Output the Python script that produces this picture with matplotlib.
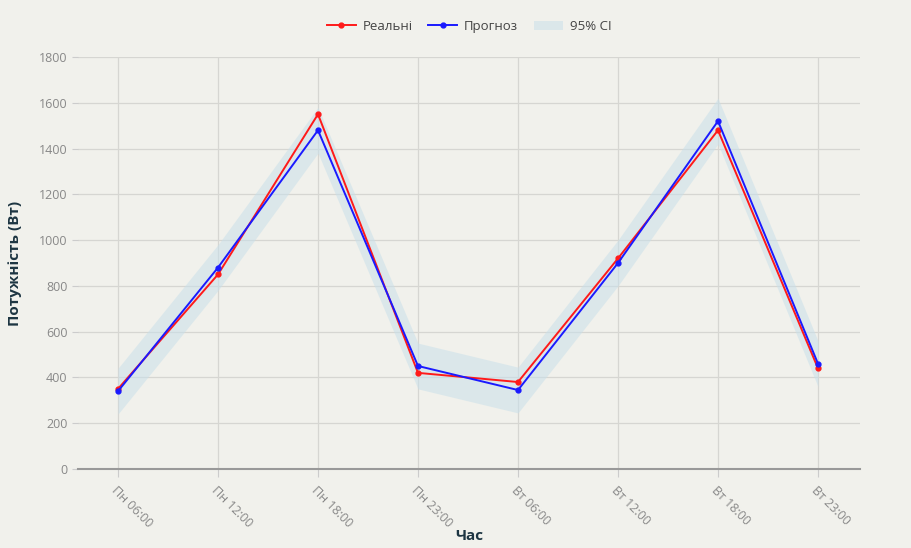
import numpy as np
import matplotlib
matplotlib.use("Agg")
import matplotlib.pyplot as plt

plt.rcParams['font.family'] = ['Open Sans', 'DejaVu Sans']

hours = ['Пн 06:00', 'Пн 12:00', 'Пн 18:00', 'Пн 23:00',
         'Вт 06:00', 'Вт 12:00', 'Вт 18:00', 'Вт 23:00']
actual = [350, 850, 1550, 420, 380, 920, 1480, 440]
forecast = [340, 880, 1480, 450, 345, 900, 1520, 460]
ci_lower = [240, 780, 1380, 350, 245, 800, 1420, 360]
ci_upper = [440, 980, 1580, 550, 445, 1000, 1620, 560]

bg = '#f1f1ec'
fig = plt.figure(figsize=(9.11, 5.48), dpi=100, facecolor=bg)
ax = fig.add_axes([78 / 911, 1 - 469 / 548, (860 - 78) / 911, (469 - 57) / 548])
ax.set_facecolor(bg)

x = np.arange(len(hours))
ax.plot(x, actual, color='#ff1a1a', marker='o', markersize=3.5,
        linewidth=1.4, label='Реальні', zorder=3)
ax.plot(x, forecast, color='#1a1aff', marker='o', markersize=3.5,
        linewidth=1.4, label='Прогноз', zorder=3)
ax.fill_between(x, ci_lower, ci_upper, color='#c9e0ea', alpha=0.55,
                linewidth=0, label='95% CI', zorder=1)

ax.set_xlim(-0.4, 7.42)
ax.set_ylim(0, 1800)
ax.set_yticks(range(0, 1801, 200))
ax.set_xticks(x)
ax.set_xticklabels(hours, rotation=-45, ha='left', va='top',
                   rotation_mode='anchor')
ax.tick_params(axis='both', colors='#888888', labelsize=9, length=4,
               color='#cccccc')
ax.tick_params(axis='x', length=6, pad=5)
ax.grid(True, color='#d6d6d2', linewidth=0.9)
ax.set_axisbelow(True)
for s in ['top', 'right', 'left']:
    ax.spines[s].set_visible(False)
ax.spines['bottom'].set_color('#999999')
ax.spines['bottom'].set_linewidth(1.5)

ax.set_xlabel('Час', fontsize=11, fontweight='bold', color='#1d3542')
ax.xaxis.set_label_coords(0.5, -0.145)
ax.set_ylabel('Потужність (Вт)', fontsize=11, fontweight='bold',
              color='#1d3542', labelpad=12)

ax.legend(loc='lower center', bbox_to_anchor=(0.5, 1.03), ncol=3,
          frameon=False, fontsize=9.5, handlelength=2.2, columnspacing=1.2,
          labelcolor='#444444', handletextpad=0.5)

fig.savefig('out.png', dpi=100, facecolor=bg)
